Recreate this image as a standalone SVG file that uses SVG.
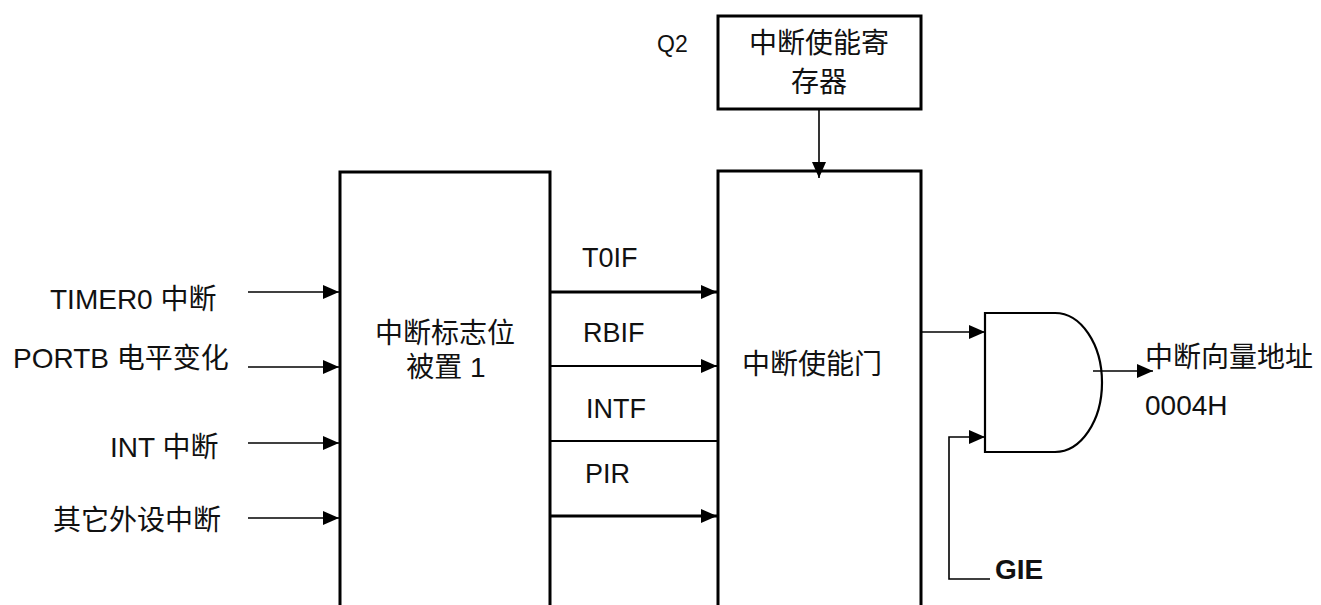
<svg xmlns="http://www.w3.org/2000/svg" width="1321" height="605" viewBox="0 0 1321 605">
<style>
text{font-family:"Liberation Sans","Noto Sans CJK SC",Arial,sans-serif;font-size:28px;fill:#111}
.box{fill:#fff;stroke:#000;stroke-width:3}
.gate{fill:#fff;stroke:#000;stroke-width:2.2}
.w{fill:none;stroke:#000;stroke-width:1.6}
.w2{fill:none;stroke:#000;stroke-width:2.2}
.w3{fill:none;stroke:#000;stroke-width:3.2}
.sm{font-size:27px}
.q{font-size:23px}
.b{font-weight:bold}
</style>
<defs>
<marker id="ah" markerUnits="userSpaceOnUse" markerWidth="16" markerHeight="14" refX="16" refY="7" orient="auto">
<path d="M0,0 L16,7 L0,14 Z" fill="#000"/>
</marker>
</defs>
<rect width="1321" height="605" fill="#fff"/>

<g id="reg">
<rect class="box" x="718" y="16" width="203" height="93"/>
<text x="819" y="53" text-anchor="middle">中断使能寄</text>
<text x="819" y="92" text-anchor="middle">存器</text>
<text class="q" x="657" y="52">Q2</text>
</g>

<g id="flags">
<path class="box" d="M340,610 V172 H550 V610"/>
<text x="445" y="343" text-anchor="middle">中断标志位</text>
<text x="446" y="377" text-anchor="middle">被置 1</text>
</g>

<g id="enable">
<path class="box" d="M718,610 V171 H921 V610"/>
<text x="812" y="374" text-anchor="middle">中断使能门</text>
</g>

<g id="and">
<path class="gate" d="M985,313 H1055 A47,69.5 0 0 1 1055,452 H985 Z"/>
</g>

<g id="labels">
<text x="50" y="309">TIMER0 中断</text>
<text x="13" y="368">PORTB 电平变化</text>
<text x="110" y="457">INT 中断</text>
<text x="53" y="530">其它外设中断</text>
<text class="sm" x="582" y="267">T0IF</text>
<text class="sm" x="583" y="342">RBIF</text>
<text class="sm" x="586" y="418">INTF</text>
<text class="sm" x="585" y="483">PIR</text>
<text class="b" x="995" y="579">GIE</text>
<text x="1145" y="367">中断向量地址</text>
<text x="1145" y="415">0004H</text>
</g>

<g id="connectors">
<path class="w" d="M819,109 V178" marker-end="url(#ah)"/>
<path class="w" d="M248,292 H339" marker-end="url(#ah)"/>
<path class="w" d="M248,367 H339" marker-end="url(#ah)"/>
<path class="w" d="M248,443 H339" marker-end="url(#ah)"/>
<path class="w" d="M248,518 H339" marker-end="url(#ah)"/>
<path class="w3" d="M550,292 H717" marker-end="url(#ah)"/>
<path class="w2" d="M550,366 H717" marker-end="url(#ah)"/>
<path class="w2" d="M550,441 H718"/>
<path class="w3" d="M550,516 H717" marker-end="url(#ah)"/>
<path class="w" d="M921,332 H985" marker-end="url(#ah)"/>
<path class="w" d="M990,579 H949 V437 H985" marker-end="url(#ah)"/>
<path class="w" d="M1093,371 H1153" marker-end="url(#ah)"/>
</g>
</svg>
